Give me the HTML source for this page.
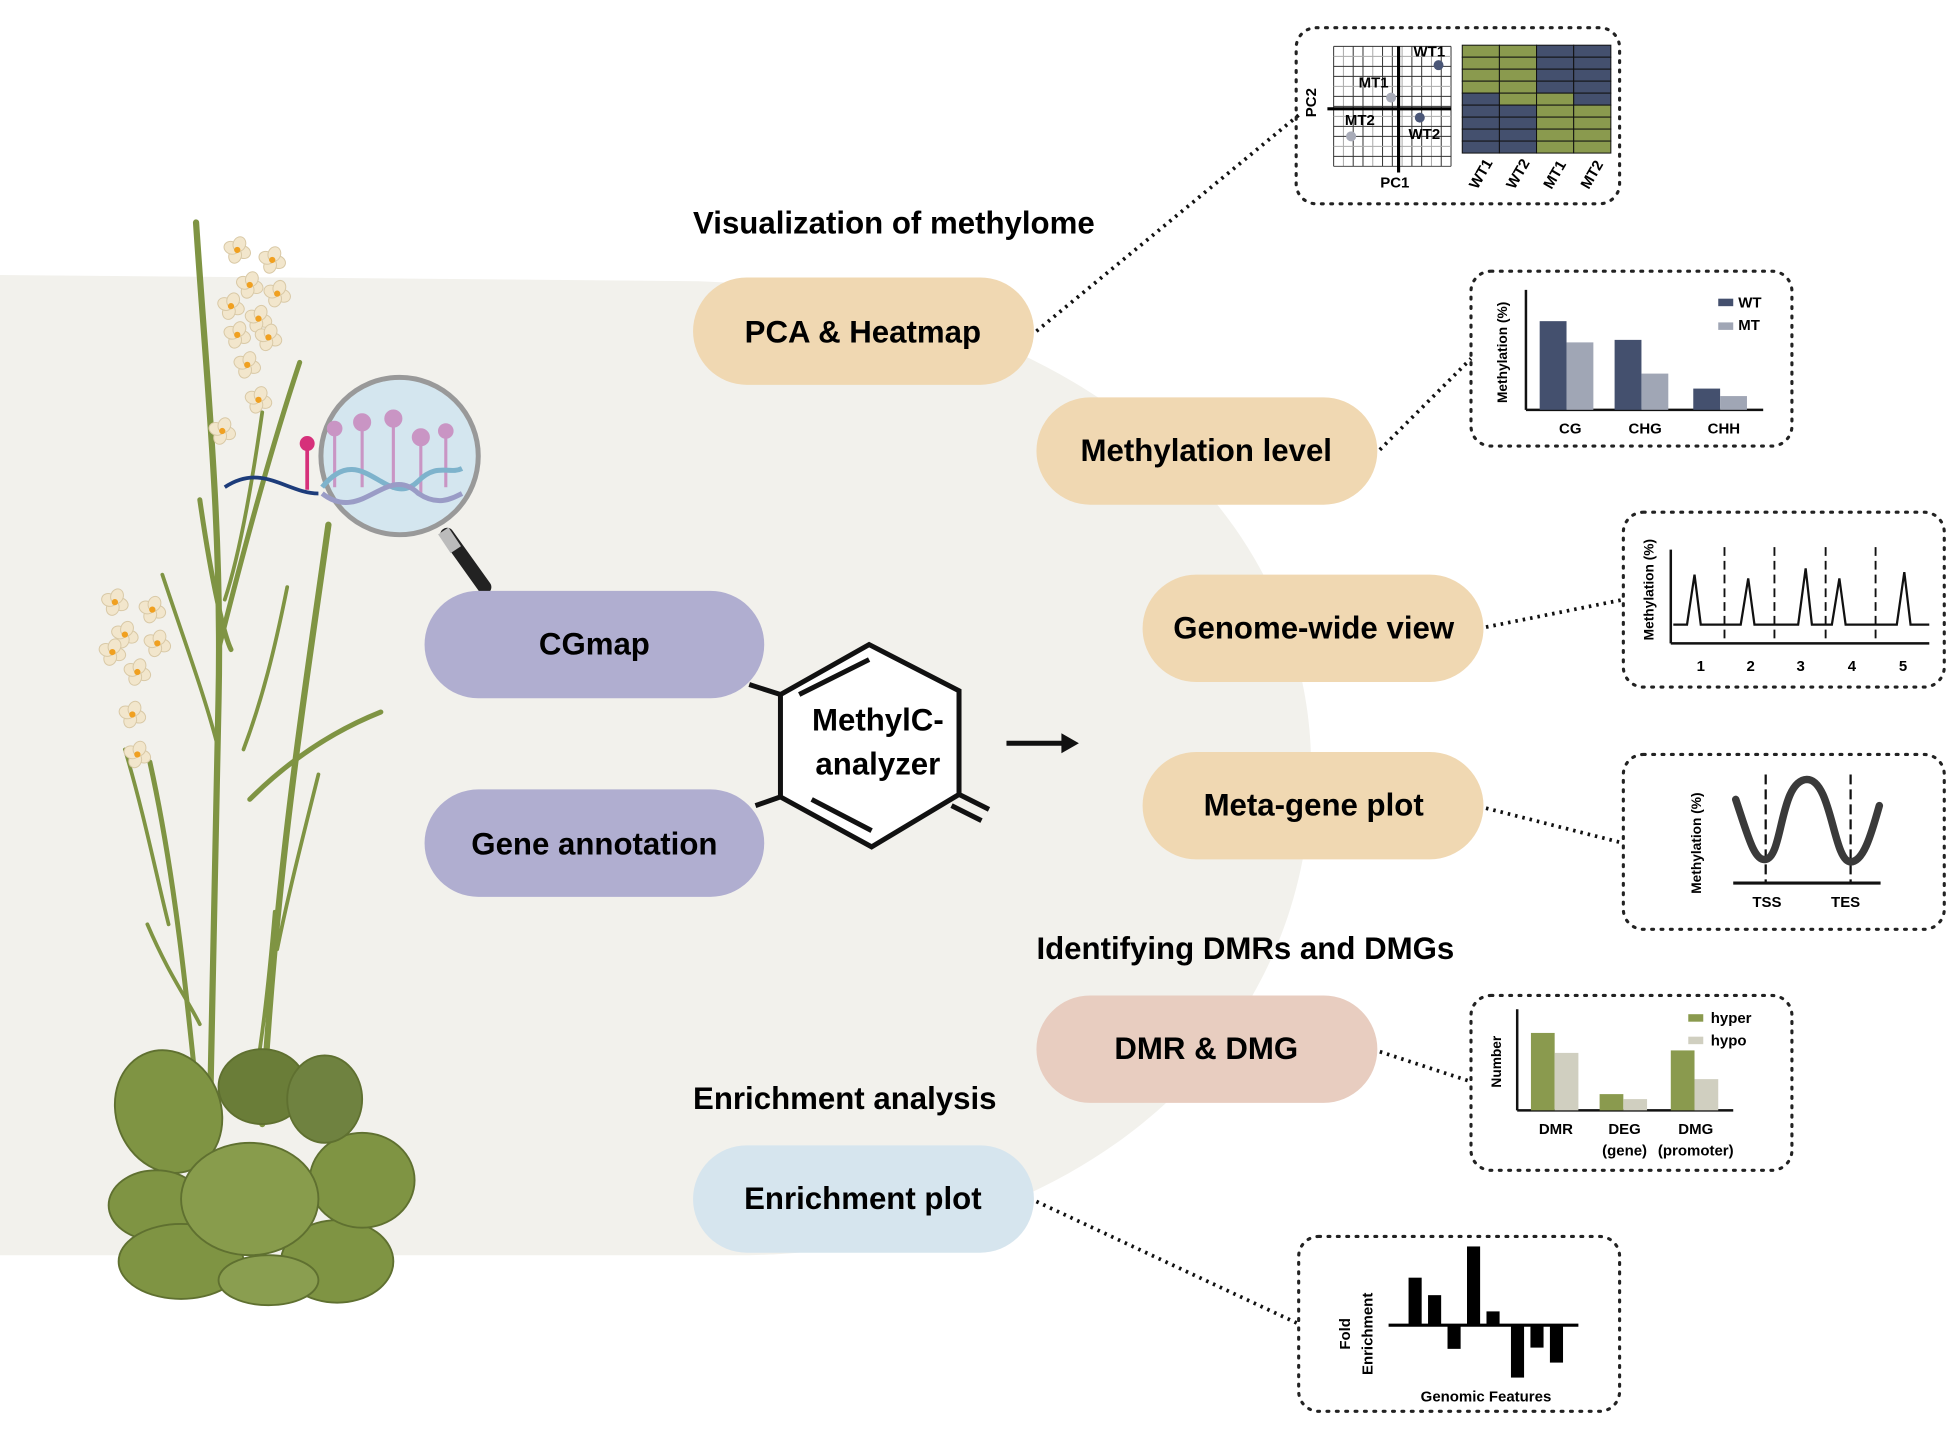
<!DOCTYPE html>
<html><head><meta charset="utf-8"><style>
html,body{margin:0;padding:0;background:#fff;width:1958px;height:1434px;overflow:hidden}
svg text{font-family:"Liberation Sans",Arial,sans-serif;font-weight:bold}
</style></head><body>
<svg id="root" width="1958" height="1434" viewBox="0 0 1568 1148" xmlns="http://www.w3.org/2000/svg">
<path d="M0,220 L560,225 C850,235 1050,400 1050,615 C1050,850 850,1000 600,1005 L0,1005 Z" fill="#f2f1ec"/>

<!-- plant -->
<g fill="none" stroke="#7f9443" stroke-linecap="round">
 <path d="M157,178 C165,300 178,420 175,560 C172,700 170,800 168,900" stroke-width="5"/>
 <path d="M175,520 C200,420 220,350 240,290" stroke-width="4"/>
 <path d="M263,420 C245,550 220,700 210,900" stroke-width="5"/>
 <path d="M160,400 C170,470 180,510 185,520" stroke-width="4"/>
 <path d="M120,610 C140,700 150,800 160,900" stroke-width="4"/>
 <path d="M210,330 C200,400 190,450 180,480" stroke-width="3"/>
 <path d="M230,470 C220,520 210,560 195,600" stroke-width="3"/>
 <path d="M200,640 C240,600 280,580 305,570" stroke-width="4"/>
 <path d="M130,460 C150,520 165,560 175,600" stroke-width="3"/>
 <path d="M100,600 C115,650 125,700 135,740" stroke-width="3"/>
 <path d="M118,740 C135,780 150,800 160,820" stroke-width="3"/>
 <path d="M220,730 C215,790 210,830 205,860" stroke-width="3"/>
 <path d="M255,620 C240,680 230,720 222,760" stroke-width="3"/>
</g>
<g fill="#7f9443" stroke="#5f7030" stroke-width="1.5">
 <ellipse cx="135" cy="890" rx="42" ry="50" transform="rotate(-20 135 890)"/>
 <ellipse cx="125" cy="965" rx="38" ry="28"/>
 <ellipse cx="145" cy="1010" rx="50" ry="30"/>
 <ellipse cx="270" cy="1010" rx="45" ry="33"/>
 <ellipse cx="290" cy="945" rx="42" ry="38"/>
 <ellipse cx="210" cy="870" rx="35" ry="30" fill="#6a7d38"/>
 <ellipse cx="260" cy="880" rx="30" ry="35" fill="#6f8240"/>
 <ellipse cx="200" cy="960" rx="55" ry="45" fill="#889c4c"/>
 <ellipse cx="215" cy="1025" rx="40" ry="20" fill="#8a9e50"/>
</g>
<g id="flowers"></g>
<!-- magnifier -->
<g>
 <path d="M358,428 L388,470" stroke="#222" stroke-width="11" stroke-linecap="round"/>
 <path d="M355,425 L365,440" stroke="#bbb" stroke-width="10"/>
 <path d="M180,390 C210,370 230,395 255,395" stroke="#1d3c7a" stroke-width="3" fill="none"/>
 <line x1="246" y1="356" x2="246" y2="392" stroke="#d6307a" stroke-width="3"/>
 <circle cx="246" cy="355" r="6" fill="#d6307a"/>
 <circle cx="320" cy="365" r="63" fill="#d4e6ef" stroke="#999" stroke-width="4"/>
 <g stroke="#c995c4" stroke-width="2.5" fill="#c995c4">
  <line x1="290" y1="340" x2="290" y2="390"/><circle cx="290" cy="338" r="6"/>
  <line x1="315" y1="338" x2="315" y2="392"/><circle cx="315" cy="335" r="6"/>
  <line x1="337" y1="350" x2="337" y2="395"/><circle cx="337" cy="350" r="6"/>
  <line x1="268" y1="345" x2="268" y2="390"/><circle cx="268" cy="343" r="5"/>
  <line x1="357" y1="345" x2="357" y2="390"/><circle cx="357" cy="345" r="5"/>
 </g>
 <path d="M258,390 C290,350 310,410 335,385 C350,370 360,380 370,375" stroke="#7eb3cc" stroke-width="4" fill="none"/>
 <path d="M258,395 C290,420 310,370 335,395 C350,405 360,400 370,395" stroke="#9a9cc6" stroke-width="4" fill="none"/>
</g>

<!-- titles -->
<text x="555" y="187" font-size="25">Visualization of methylome</text>
<text x="830" y="768" font-size="25">Identifying DMRs and DMGs</text>
<text x="555" y="888" font-size="25">Enrichment analysis</text>

<!-- dotted connectors -->
<g stroke="#111" stroke-width="3" stroke-dasharray="2,4" fill="none">
 <line x1="830" y1="265" x2="1040" y2="92"/>
 <line x1="1105" y1="360" x2="1178" y2="287"/>
 <line x1="1190" y1="502" x2="1300" y2="480"/>
 <line x1="1190" y1="647" x2="1300" y2="675"/>
 <line x1="1105" y1="842" x2="1178" y2="866"/>
 <line x1="830" y1="962" x2="1040" y2="1060"/>
</g>

<!-- pills -->
<g font-size="25" text-anchor="middle">
 <g><rect x="555" y="222" width="273" height="86" rx="43" fill="#f0d8b2"/><text x="691" y="274">PCA &amp; Heatmap</text></g>
 <g><rect x="830" y="318" width="273" height="86" rx="43" fill="#f0d8b2"/><text x="966" y="369">Methylation level</text></g>
 <g><rect x="915" y="460" width="273" height="86" rx="43" fill="#f0d8b2"/><text x="1052" y="511">Genome-wide view</text></g>
 <g><rect x="915" y="602" width="273" height="86" rx="43" fill="#f0d8b2"/><text x="1052" y="653">Meta-gene plot</text></g>
 <g><rect x="830" y="797" width="273" height="86" rx="43" fill="#e8cdc0"/><text x="966" y="848">DMR &amp; DMG</text></g>
 <g><rect x="555" y="917" width="273" height="86" rx="43" fill="#d6e5ee"/><text x="691" y="968">Enrichment plot</text></g>
 <g><rect x="340" y="473" width="272" height="86" rx="43" fill="#b0aed0"/><text x="476" y="524">CGmap</text></g>
 <g><rect x="340" y="632" width="272" height="86" rx="43" fill="#b0aed0"/><text x="476" y="684">Gene annotation</text></g>
</g>

<!-- hexagon -->
<g stroke="#111" stroke-width="4" fill="none">
 <polygon points="696,516 768,553 768,636 698,678 625,638 625,556" fill="#fff"/>
 <line x1="640" y1="556" x2="696" y2="528"/>
 <line x1="650" y1="640" x2="698" y2="665"/>
 <line x1="600" y1="548" x2="625" y2="556"/>
 <line x1="605" y1="645" x2="625" y2="638"/>
 <line x1="768" y1="636" x2="792" y2="648"/>
 <line x1="762" y1="645" x2="786" y2="657"/>
</g>
<text x="703" y="585" font-size="25" text-anchor="middle">MethylC-</text>
<text x="703" y="620" font-size="25" text-anchor="middle">analyzer</text>
<g><line x1="806" y1="595" x2="852" y2="595" stroke="#111" stroke-width="4"/><polygon points="850,587 864,595 850,603" fill="#111"/></g>

<!-- dotted boxes -->
<g stroke="#222" stroke-width="2.5" stroke-dasharray="1.5,6" stroke-linecap="round" fill="none">
 <rect x="1038" y="22" width="259" height="141" rx="16"/>
 <rect x="1178" y="217" width="257" height="140" rx="16"/>
 <rect x="1300" y="410" width="257" height="140" rx="16"/>
 <rect x="1300" y="604" width="257" height="140" rx="16"/>
 <rect x="1178" y="797" width="257" height="140" rx="16"/>
 <rect x="1040" y="990" width="257" height="140" rx="16"/>
</g>

<g id="pca"></g>
<g id="heat"></g>
<g id="mlevel"></g>
<g id="gw"></g>
<g id="meta"></g>
<g id="dmr"></g>
<g id="enr"></g>
</svg>
<script>
const NS="http://www.w3.org/2000/svg";
// ---- data ----
const pcaSamples=["WT1","MT1","WT2","MT2"];
const pcaX=[3.2,-0.6,1.7,-3.8];
const pcaY=[3.5,0.9,-0.7,-2.2];
const heatCols=["WT1","WT2","MT1","MT2"];
const heatRows=[[1,1,0,0],[1,1,0,0],[1,1,0,0],[1,1,0,0],[0,1,1,0],[0,0,1,1],[0,0,1,1],[0,0,1,1],[0,0,1,1]];
const contexts=["CG","CHG","CHH"];
const wtLevel=[71,56,17];
const mtLevel=[54,29,11];
const chroms=["1","2","3","4","5"];
const chromPeaks=[40,37,45,37,42];
const dmrCats=["DMR","DEG","DMG"];
const dmrCats2=["","(gene)","(promoter)"];
const hyper=[62,13,48];
const hypo=[46,9,25];
const enrichFeatures=["f1","f2","f3","f4","f5","f6","f7","f8"];
const enrichValues=[3.8,2.4,-1.9,6.3,1.1,-4.2,-1.8,-3.0];

function el(parent,tag,attrs,text){const e=document.createElementNS(NS,tag);for(const k in attrs)e.setAttribute(k,attrs[k]);if(text!==undefined)e.textContent=text;parent.appendChild(e);return e;}

// flowers (illustration)
(function(){
 const g=document.getElementById('flowers');
 const fl=[[190,200],[218,208],[200,228],[222,235],[185,245],[207,255],[190,268],[215,270],[198,292],[207,320],[178,345],
  [92,482],[122,488],[100,508],[126,515],[90,522],[110,538],[106,572],[110,604]];
 fl.forEach(([x,y])=>{
  const f=el(g,'g',{});
  for(let k=0;k<4;k++){const a=k*90+20;const dx=Math.cos(a*Math.PI/180)*5,dy=Math.sin(a*Math.PI/180)*5;
   el(f,'ellipse',{cx:x+dx,cy:y+dy,rx:6,ry:5,fill:'#f2e6cc',stroke:'#d9c9a6','stroke-width':0.8,transform:`rotate(${a} ${x+dx} ${y+dy})`});}
  el(f,'circle',{cx:x,cy:y,r:2.5,fill:'#f0a020'});
 });
})();

// PCA
(function(){
 const g=document.getElementById('pca');
 const x0=1068,x1=1162,y0=37,y1=133;
 for(let i=0;i<=12;i++){const x=x0+i*(x1-x0)/12;el(g,'line',{x1:x,y1:y0,x2:x,y2:y1,stroke:i%3==1?'#aaa':'#333','stroke-width':0.8});}
 for(let i=0;i<=12;i++){const y=y0+i*(y1-y0)/12;el(g,'line',{x1:x0,y1:y,x2:x1,y2:y,stroke:i%3==1?'#aaa':'#333','stroke-width':0.8});}
 const sx=v=>1120+v*10, sy=v=>87-v*10;
 el(g,'line',{x1:1120,y1:y0,x2:1120,y2:138,stroke:'#000','stroke-width':2.5});
 el(g,'line',{x1:1063,y1:87,x2:1162,y2:87,stroke:'#000','stroke-width':2.5});
 const lx=[-20,-26,-9,-5], ly=[-7,-8,17,-9];
 pcaSamples.forEach((s,i)=>{
  const c=el(g,'circle',{cx:sx(pcaX[i]),cy:sy(pcaY[i]),r:4,fill:s.startsWith('WT')?'#4a5677':'#a8abb8'});
  
  
  el(g,'text',{x:sx(pcaX[i])+lx[i],y:sy(pcaY[i])+ly[i],'font-size':12},s);
 });
 el(g,'text',{x:1117,y:150,'font-size':12,'text-anchor':'middle'},'PC1');
 el(g,'text',{x:0,y:0,'font-size':12,'text-anchor':'middle',transform:'translate(1054,82) rotate(-90)'},'PC2');
})();
// Heatmap
(function(){
 const g=document.getElementById('heat');
 const x0=1171,w=29.75,y0=36,h=9.6;
 heatRows.forEach((row,r)=>row.forEach((v,c)=>{
  const rc=el(g,'rect',{x:x0+c*w,y:y0+r*h,width:w,height:h,fill:v?'#8a9a4e':'#44506e',stroke:'#111','stroke-width':0.8});
  
  
 }));
 heatCols.forEach((s,c)=>el(g,'text',{x:0,y:0,'font-size':12,transform:`translate(${x0+c*w+12},152) rotate(-60)`},s));
})();
// Methylation level
(function(){
 const g=document.getElementById('mlevel');
 const base=328,sc=1.0,bw=21.5,xs=[1233,1293,1356];
 el(g,'line',{x1:1222,y1:232,x2:1222,y2:base,stroke:'#111','stroke-width':2});
 el(g,'line',{x1:1222,y1:base,x2:1412,y2:base,stroke:'#111','stroke-width':2});
 contexts.forEach((c,i)=>{
  const a=el(g,'rect',{x:xs[i],y:base-wtLevel[i]*sc,width:bw,height:wtLevel[i]*sc,fill:'#44506e'});
  
  
  const b=el(g,'rect',{x:xs[i]+bw,y:base-mtLevel[i]*sc,width:bw,height:mtLevel[i]*sc,fill:'#a0a6b5'});
  
  
  el(g,'text',{x:xs[i]+bw+3,y:347,'font-size':12,'text-anchor':'middle'},c);
 });
 el(g,'text',{x:0,y:0,'font-size':11,'text-anchor':'middle',transform:'translate(1207,282) rotate(-90)'},'Methylation (%)');
 el(g,'rect',{x:1376,y:239,width:12,height:6,fill:'#44506e'});el(g,'text',{x:1392,y:246,'font-size':12},'WT');
 el(g,'rect',{x:1376,y:258,width:12,height:6,fill:'#a0a6b5'});el(g,'text',{x:1392,y:264,'font-size':12},'MT');
})();
// Genome wide
(function(){
 const g=document.getElementById('gw');
 const base=500,xs=[1357,1400,1446,1473,1525];
 el(g,'line',{x1:1338,y1:440,x2:1338,y2:515,stroke:'#111','stroke-width':2});
 el(g,'line',{x1:1338,y1:515,x2:1545,y2:515,stroke:'#111','stroke-width':2});
 [1381,1421,1462,1502].forEach(x=>el(g,'line',{x1:x,y1:438,x2:x,y2:515,stroke:'#111','stroke-width':1.5,'stroke-dasharray':'7,4'}));
 let d=`M1340,${base}`;
 chroms.forEach((c,i)=>{const x=xs[i];d+=` L${x-6},${base} L${x},${base-chromPeaks[i]} L${x+5},${base}`;});
 d+=` L1545,${base}`;
 const p=el(g,'path',{d:d,fill:'none',stroke:'#111','stroke-width':1.8});
 
 
 [1362,1402,1442,1483,1524].forEach((x,i)=>el(g,'text',{x:x,y:537,'font-size':12,'text-anchor':'middle'},chroms[i]));
 el(g,'text',{x:0,y:0,'font-size':11,'text-anchor':'middle',transform:'translate(1324,472) rotate(-90)'},'Methylation (%)');
})();
// Meta gene
(function(){
 const g=document.getElementById('meta');
 el(g,'line',{x1:1388,y1:707,x2:1506,y2:707,stroke:'#111','stroke-width':2.5});
 el(g,'line',{x1:1414,y1:620,x2:1414,y2:707,stroke:'#111','stroke-width':1.8,'stroke-dasharray':'8,4'});
 el(g,'line',{x1:1482,y1:620,x2:1482,y2:707,stroke:'#111','stroke-width':1.8,'stroke-dasharray':'8,4'});
 const c=el(g,'path',{d:'M1390,640 C1400,670 1405,690 1414,688 C1428,686 1425,625 1447,624 C1467,624 1468,690 1482,690 C1492,690 1498,670 1505,645',fill:'none',stroke:'#3a3a3a','stroke-width':6,'stroke-linecap':'round'});
 
 
 el(g,'text',{x:1415,y:726,'font-size':12,'text-anchor':'middle'},'TSS');
 el(g,'text',{x:1478,y:726,'font-size':12,'text-anchor':'middle'},'TES');
 el(g,'text',{x:0,y:0,'font-size':11,'text-anchor':'middle',transform:'translate(1362,675) rotate(-90)'},'Methylation (%)');
})();
// DMR
(function(){
 const g=document.getElementById('dmr');
 const base=889,bw=19,xs=[1226,1281,1338];
 el(g,'line',{x1:1215,y1:808,x2:1215,y2:base,stroke:'#111','stroke-width':2});
 el(g,'line',{x1:1215,y1:base,x2:1388,y2:base,stroke:'#111','stroke-width':2});
 dmrCats.forEach((c,i)=>{
  const a=el(g,'rect',{x:xs[i],y:base-hyper[i],width:bw,height:hyper[i],fill:'#8a9a4e'});
  
  
  const b=el(g,'rect',{x:xs[i]+bw,y:base-hypo[i],width:bw,height:hypo[i],fill:'#d0cfc0'});
  
  
  el(g,'text',{x:xs[i]+bw+1,y:908,'font-size':12,'text-anchor':'middle'},c);
  if(dmrCats2[i])el(g,'text',{x:xs[i]+bw+1,y:925,'font-size':12,'text-anchor':'middle'},dmrCats2[i]);
 });
 el(g,'text',{x:0,y:0,'font-size':11,'text-anchor':'middle',transform:'translate(1202,850) rotate(-90)'},'Number');
 el(g,'rect',{x:1352,y:812,width:12,height:6,fill:'#8a9a4e'});el(g,'text',{x:1370,y:819,'font-size':12},'hyper');
 el(g,'rect',{x:1352,y:830,width:12,height:6,fill:'#d0cfc0'});el(g,'text',{x:1370,y:837,'font-size':12},'hypo');
})();
// Enrichment
(function(){
 const g=document.getElementById('enr');
 const base=1061,sc=10,step=15.6,x0=1128,bw=10.5;
 enrichFeatures.forEach((f,i)=>{
  const v=enrichValues[i];const x=x0+i*step+(i>=5?4:0);
  const r=el(g,'rect',{x:x,y:v>0?base-v*sc:base,width:bw,height:Math.abs(v)*sc,fill:'#000'});
  
  
 });
 el(g,'line',{x1:1112,y1:base,x2:1264,y2:base,stroke:'#000','stroke-width':2.5});
 el(g,'text',{x:1190,y:1122,'font-size':12,'text-anchor':'middle'},'Genomic Features');
 el(g,'text',{x:0,y:0,'font-size':12,'text-anchor':'middle',transform:'translate(1081,1068) rotate(-90)'},'Fold');
 el(g,'text',{x:0,y:0,'font-size':12,'text-anchor':'middle',transform:'translate(1099,1068) rotate(-90)'},'Enrichment');
})();
</script>
</body></html>
